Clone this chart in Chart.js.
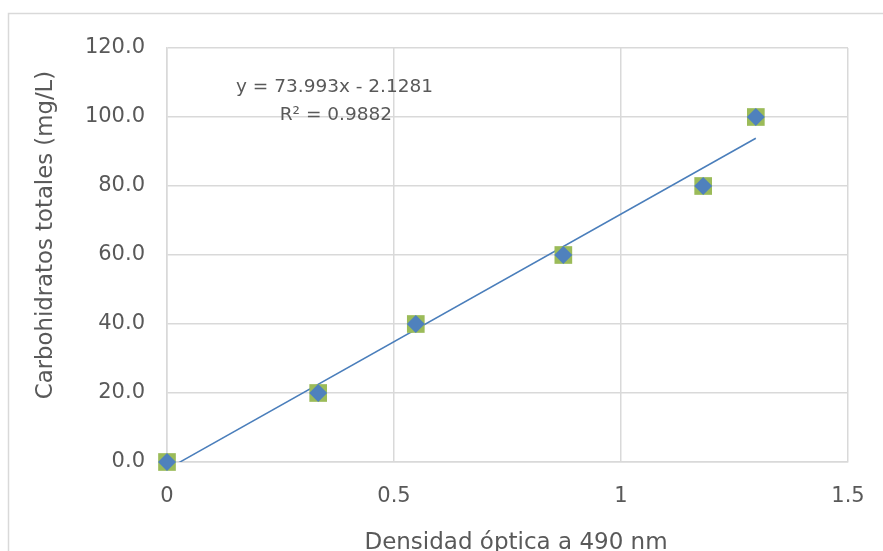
<!DOCTYPE html>
<html>
<head>
<meta charset="utf-8">
<script src="https://cdn.jsdelivr.net/npm/chart.js@4"></script>
<style>
  html, body { margin: 0; padding: 0; background: #ffffff; overflow: hidden; }
  #wrap { width: 883px; height: 551px; position: relative; }
</style>
</head>
<body>
<div id="wrap"><canvas id="grafico" width="883" height="551"></canvas></div>
<script>
// Datos
const densidad = [0, 0.333, 0.548, 0.873, 1.181, 1.297];
const carbohidratos = [0, 20, 40, 60, 80, 100];
// Línea de tendencia (extremos)
const tendenciaX = [0, 1.297];
const tendenciaY = [-2.128, 93.84];
const ecuacion = ['y = 73.993x - 2.1281', 'R² = 0.9882'];
const tituloX = 'Densidad óptica a 490 nm';
const tituloY = 'Carbohidratos totales (mg/L)';

const fuente = "'DejaVu Sans', sans-serif";
const gris = '#595959';
const rejilla = '#d9d9d9';

// Marco exterior, títulos de ejes y texto de la ecuación
const extras = {
    id: 'extras',
    beforeDraw(chart) {
        const c = chart.ctx;
        c.save();
        c.strokeStyle = '#d9d9d9';
        c.lineWidth = 1.5;
        c.strokeRect(8.5, 13.5, 1000, 700);
        c.restore();
    },
    afterDatasetsDraw(chart) {
        const c = chart.ctx;
        const xs = chart.scales.x, ys = chart.scales.y;
        c.save();
        c.fillStyle = gris;
        c.font = '18.5px ' + fuente;
        c.textAlign = 'center';
        c.textBaseline = 'middle';
        c.fillText(ecuacion[0], xs.getPixelForValue(0.369), ys.getPixelForValue(108.5));
        c.fillText(ecuacion[1], xs.getPixelForValue(0.372), ys.getPixelForValue(100.5));

        c.font = '23px ' + fuente;
        c.textBaseline = 'alphabetic';
        c.fillText(tituloX, 516, 549);

        c.font = '22.8px ' + fuente;
        c.textBaseline = 'middle';
        c.translate(46, 235);
        c.rotate(-Math.PI / 2);
        c.fillText(tituloY, 0, 0);
        c.restore();
    }
};

const ctx = document.getElementById('grafico').getContext('2d');
new Chart(ctx, {
    type: 'scatter',
    data: {
        datasets: [
            {
                label: 'Tendencia',
                type: 'line',
                data: tendenciaX.map((x, i) => ({ x: x, y: tendenciaY[i] })),
                borderColor: '#4a7ebb',
                borderWidth: 1.5,
                pointRadius: 0,
                fill: false,
                order: 3
            },
            {
                label: 'Fondo',
                data: densidad.map((x, i) => ({ x: x, y: carbohidratos[i] })),
                pointStyle: 'rect',
                pointRadius: 12.5,
                backgroundColor: '#9bbb59',
                borderColor: '#9bbb59',
                borderWidth: 0,
                clip: false,
                order: 2
            },
            {
                label: 'Carbohidratos',
                data: densidad.map((x, i) => ({ x: x, y: carbohidratos[i] })),
                pointStyle: 'rectRot',
                pointRadius: 9,
                backgroundColor: '#4f81bd',
                borderColor: '#4f81bd',
                borderWidth: 0,
                clip: false,
                order: 1
            }
        ]
    },
    options: {
        responsive: false,
        animation: false,
        layout: { padding: { top: 48, right: 35, left: 30, bottom: 0 } },
        plugins: {
            legend: { display: false },
            tooltip: { enabled: false }
        },
        scales: {
            x: {
                type: 'linear',
                min: 0,
                max: 1.5,
                ticks: {
                    stepSize: 0.5,
                    color: gris,
                    font: { family: fuente, size: 21 },
                    padding: 22,
                    callback: v => String(v)
                },
                grid: { color: rejilla, lineWidth: 1.5, drawTicks: false },
                border: { color: rejilla, width: 1.5 },
                afterFit: s => {
                    s.height = 89;
                    s.paddingLeft = 0;
                    s.paddingRight = 0;
                }
            },
            y: {
                min: 0,
                max: 120,
                ticks: {
                    stepSize: 20,
                    color: gris,
                    font: { family: fuente, size: 21 },
                    padding: 22,
                    callback: v => v.toFixed(1)
                },
                grid: { color: rejilla, lineWidth: 1.5, drawTicks: false },
                border: { color: rejilla, width: 1.5 },
                afterFit: s => {
                    s.width = 137;
                    s.paddingTop = 0;
                    s.paddingBottom = 0;
                }
            }
        }
    },
    plugins: [extras]
});
</script>
</body>
</html>
